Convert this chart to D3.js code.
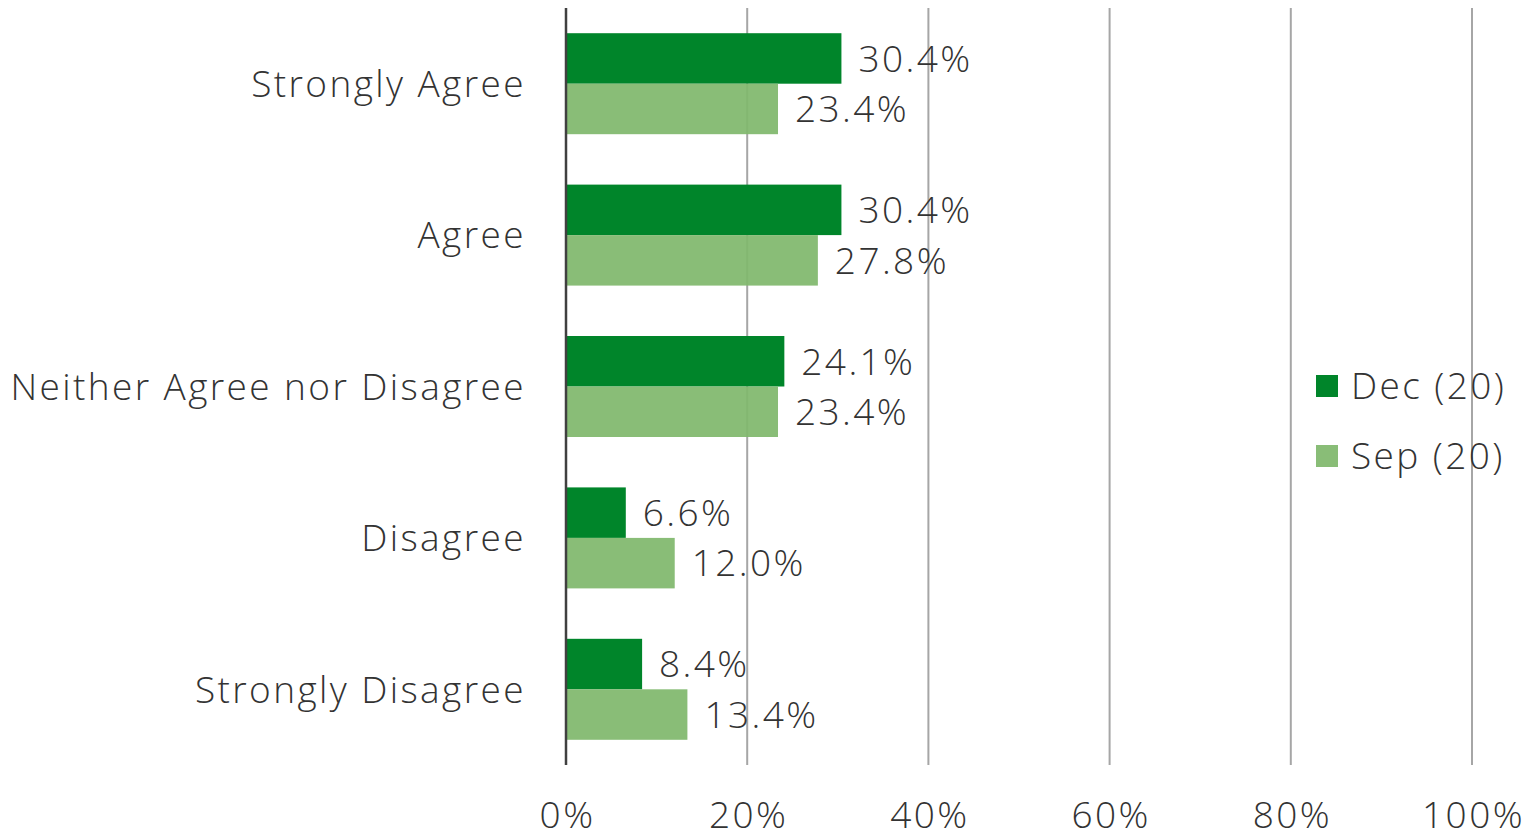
<!DOCTYPE html>
<html>
<head>
<meta charset="utf-8">
<script src="https://cdn.jsdelivr.net/npm/d3@7"></script>
<style>
  html, body { margin: 0; padding: 0; background: #ffffff; }
  svg { display: block; }
  text { font-family: "Open Sans", Lato, sans-serif; font-weight: 300; fill: #333333; letter-spacing: 2.4px; }
</style>
</head>
<body>
<svg id="chart" width="1528" height="838"></svg>
<script>
// Survey response categories, top to bottom
const categories = ["Strongly Agree", "Agree", "Neither Agree nor Disagree", "Disagree", "Strongly Disagree"];
// Share of respondents (%) per wave
const decValues = [30.4, 30.4, 24.1, 6.6, 8.4];
const sepValues = [23.4, 27.8, 23.4, 12.0, 13.4];
const seriesNames = ["Dec (20)", "Sep (20)"];
const xTicks = [0, 20, 40, 60, 80, 100];

const colors = ["#00852a", "#80b86d"];
const FS = 37;

const svg = d3.select("#chart");
const margin = { top: 8, right: 56, bottom: 73, left: 566 };
const W = 1528, H = 838;
const plotW = W - margin.left - margin.right;
const plotH = H - margin.top - margin.bottom;

const g = svg.append("g").attr("transform", `translate(${margin.left},${margin.top})`);

const x = d3.scaleLinear().domain([0, 100]).range([0, plotW]);
const y = d3.scaleBand().domain(categories).range([0, plotH]).paddingInner(0.333).paddingOuter(0.1665);
const ySub = d3.scaleBand().domain(seriesNames).range([0, y.bandwidth()]);

// vertical gridlines
g.selectAll("line.grid")
  .data(xTicks.filter(t => t > 0))
  .join("line")
  .attr("class", "grid")
  .attr("x1", d => x(d)).attr("x2", d => x(d))
  .attr("y1", 0).attr("y2", plotH)
  .attr("stroke", "#a6a6a6").attr("stroke-width", 2);

const series = [decValues, sepValues];

series.forEach((vals, si) => {
  const grp = g.append("g");
  grp.selectAll("rect")
    .data(categories.map((c, i) => ({ c, v: vals[i] })))
    .join("rect")
    .attr("x", x(0))
    .attr("y", d => y(d.c) + ySub(seriesNames[si]))
    .attr("width", d => x(d.v) - x(0))
    .attr("height", ySub.bandwidth())
    .attr("fill", colors[si])
    .attr("fill-opacity", si === 1 ? 0.93 : 1);
  grp.selectAll("text")
    .data(categories.map((c, i) => ({ c, v: vals[i] })))
    .join("text")
    .attr("x", d => x(d.v) + 17)
    .attr("y", d => y(d.c) + ySub(seriesNames[si]) + ySub.bandwidth() / 2)
    .attr("dy", "0.36em")
    .attr("font-size", FS)
    .text(d => d.v.toFixed(1) + "%");
});

// category axis line
g.append("line")
  .attr("x1", 0).attr("x2", 0).attr("y1", 0).attr("y2", plotH)
  .attr("stroke", "#404040").attr("stroke-width", 2.5);

// category labels (end-anchored; offset absorbs trailing letter-spacing)
g.selectAll("text.cat")
  .data(categories)
  .join("text")
  .attr("class", "cat")
  .attr("x", -40)
  .attr("y", d => y(d) + y.bandwidth() / 2)
  .attr("dy", "0.36em")
  .attr("text-anchor", "end")
  .attr("font-size", FS)
  .text(d => d);

// value axis
const xAxis = d3.axisBottom(x).tickValues(xTicks).tickSize(0).tickFormat(d => d + "%");
const ax = g.append("g").attr("transform", `translate(0,${plotH})`).call(xAxis);
ax.select(".domain").remove();
ax.selectAll("text")
  .attr("font-size", FS)
  .attr("x", 1)
  .attr("y", 63)
  .attr("dy", 0)
  .style("font-family", "'Open Sans', Lato, sans-serif")
  .attr("fill", "#333333");

// legend
const legend = svg.append("g").attr("transform", "translate(1316,375)");
seriesNames.forEach((name, i) => {
  const row = legend.append("g").attr("transform", `translate(0,${i * 70})`);
  row.append("rect").attr("width", 22).attr("height", 22)
    .attr("fill", colors[i]).attr("fill-opacity", i === 1 ? 0.93 : 1);
  row.append("text").attr("x", 35).attr("y", 11).attr("dy", "0.36em")
    .attr("font-size", FS).text(name);
});
</script>
</body>
</html>
